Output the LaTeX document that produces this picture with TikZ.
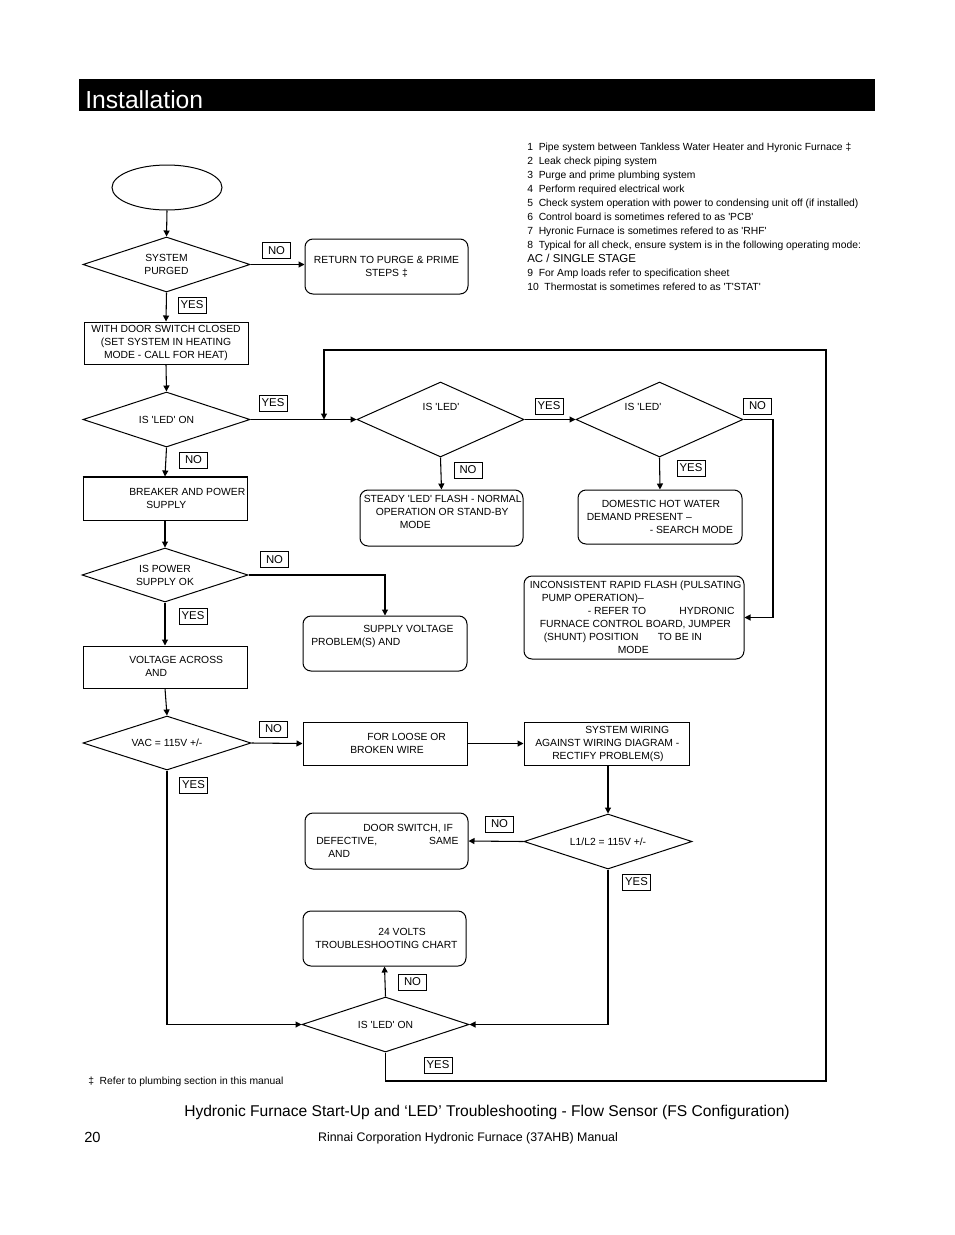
\documentclass[tikz,border=0pt]{standalone}
\usepackage{fontspec}
\newfontfamily\ls{Liberation Sans}
\usetikzlibrary{shapes.geometric,arrows.meta}
\begin{document}
\begin{tikzpicture}[x=0.75pt,y=-0.75pt,
 every node/.style={inner sep=0pt, font=\ls\fontsize{7.75}{9.75}\selectfont},
 sz/.style 2 args={minimum width=#1*0.75pt, minimum height=#2*0.75pt},
 sbox/.style={draw, rectangle, line width=0.75pt, align=center},
 rbox/.style={draw, rectangle, rounded corners=6pt, line width=0.75pt, align=center},
 dia/.style={draw, diamond, aspect=3, line width=0.75pt, align=center},
 lbl/.style={draw, line width=0.6pt, font=\ls\fontsize{8.5}{10}\selectfont, minimum width=21pt, minimum height=12pt},
 txt/.style={align=left, anchor=west},
 conn/.style={line width=0.8pt},
 arr/.style={conn, -{Triangle[length=4.5pt,width=4.5pt]}},
]
\useasboundingbox (0,0) rectangle (954,1235);
\fill[white] (0,0) rectangle (954,1235);

% header
\node[fill=black, sz={796}{32}, anchor=north west] (bar) at (79,79) {};
\node[anchor=base west, text=white, font=\ls\fontsize{18.5}{20}\selectfont] (title) at (85,108) {Installation};

% start
\node[draw, ellipse, sz={110}{45}, line width=0.75pt] (start) at (167,187.5) {};

% diamonds
\node[dia, sz={167}{55}] (d1) at (166.5,264.5) {SYSTEM\\PURGED};
\node[dia, sz={167}{55}] (d2) at (166.5,419.5) {IS 'LED' ON};
\node[dia, sz={167}{75}] (d3) at (440.5,419.5) {};
\node[dia, sz={167}{75}] (d4) at (659.5,419.5) {};
\node[dia, sz={166}{54}] (d5) at (165,575) {IS POWER\\SUPPLY OK};
\node[dia, sz={168}{54}] (d6) at (167,743) {VAC = 115V +/-};
\node[dia, sz={168}{55}] (d7) at (608,841.5) {L1/L2 = 115V +/-};
\node[dia, sz={167}{55}] (d8) at (385.5,1024.5) {IS 'LED' ON};
\node (t3) at (441,407) {IS 'LED'};
\node (t4) at (643,407) {IS 'LED'};

% square boxes
\node[sbox, sz={164}{42}] (door) at (166,343) {WITH DOOR SWITCH CLOSED\\(SET SYSTEM IN HEATING\\MODE - CALL FOR HEAT)};
\node[sbox, sz={164}{43}] (brk) at (165,498.5) {};
\draw[line width=1.5pt] (brk.north west) -- (brk.north east);
\node[sbox, sz={164}{42}] (volt) at (165,667) {};
\node[sbox, sz={164}{43}] (loose) at (385,743.5) {};
\node[sbox, sz={165}{43}] (wir) at (606.5,743.5) {};

% rounded boxes
\node[rbox, sz={163}{55}] (ret) at (386.5,266.5) {RETURN TO PURGE \& PRIME\\STEPS ‡};
\node[rbox, sz={163}{56}] (steady) at (441.5,518) {};
\node[rbox, sz={164}{54}] (dhw) at (660,517) {};
\node[rbox, sz={220}{83}] (inc) at (634,617.5) {};
\node[rbox, sz={164}{55}] (sup) at (385,643.5) {};
\node[rbox, sz={163}{56}] (drs) at (386.5,841) {};
\node[rbox, sz={163}{55}] (v24) at (384.5,938.5) {};

% box texts
\node[txt] (tbrk) at (129,498) {BREAKER AND POWER\\\hspace*{12.75pt}SUPPLY};
\node[txt] (tsteady) at (363.5,511.5) {STEADY 'LED' FLASH - NORMAL\\\hspace*{9pt}OPERATION OR STAND-BY\\\hspace*{27pt}MODE};
\node[txt] (tdhw) at (586.5,517.2) {\hspace*{11.25pt}DOMESTIC HOT WATER\\DEMAND PRESENT –\\\hspace*{47.25pt}- SEARCH MODE};
\node[txt] (tinc) at (529.5,617) {INCONSISTENT RAPID FLASH (PULSATING\\\hspace*{9pt}PUMP OPERATION)–\\\hspace*{43.5pt}- REFER TO\hspace*{25pt}HYDRONIC\\\hspace*{7.5pt}FURNACE CONTROL BOARD, JUMPER\\\hspace*{10.5pt}(SHUNT) POSITION\hspace*{14.5pt}TO BE IN\\\hspace*{66pt}MODE};
\node[txt] (tsup) at (311,636) {\hspace*{39pt}SUPPLY VOLTAGE\\PROBLEM(S) AND};
\node[txt] (tvolt) at (129,666) {VOLTAGE ACROSS\\\hspace*{12pt}AND};
\node[txt] (tloose) at (350,743) {\hspace*{12.75pt}FOR LOOSE OR\\BROKEN WIRE};
\node[txt] (twir) at (535,743.5) {\hspace*{37.5pt}SYSTEM WIRING\\AGAINST WIRING DIAGRAM -\\\hspace*{12.75pt}RECTIFY PROBLEM(S)};
\node[txt] (tdrs) at (316,840.5) {\hspace*{35.25pt}DOOR SWITCH, IF\\DEFECTIVE,\hspace*{39pt}SAME\\\hspace*{9pt}AND};
\node[txt] (t24) at (315,938) {\hspace*{47.25pt}24 VOLTS\\TROUBLESHOOTING CHART};

% connectors
\draw[arr] (start.south) -- (d1.north);
\draw[arr] (d1.east) -- (ret.west |- d1.east);
\draw[arr] (d1.south) -- (door.north);
\draw[arr] (door.south) -- (d2.north);
\draw[arr] (d2.east) -- (d3.west);
\draw[arr] (d3.east) -- (d4.west);
\coordinate (c1) at (773,419.5);
\draw[arr] (d4.east) -- (c1) |- (inc.east);
\draw[arr] (d3.south) -- (steady.north);
\draw[arr] (d4.south) -- (dhw.north);
\draw[arr] (d2.south) -- (brk.north);
\draw[arr] (brk.south) -- (d5.north);
\draw[arr] (d5.east) -| (sup.north);
\draw[arr] (d5.south) -- (volt.north);
\draw[arr] (volt.south) -- (d6.north);
\draw[arr] (d6.east) -- (loose.west);
\draw[arr] (loose.east) -- (wir.west);
\draw[arr] (wir.south -| d7.north) -- (d7.north);
\draw[arr] (d7.west) -- (drs.east);
\draw[arr] (d7.south) |- (d8.east);
\draw[arr] (d6.south) |- (d8.west);
\draw[arr] (d8.north) -- (v24.south);
\coordinate (lpB) at (826,1081);
\coordinate (lpD) at (324,350);
\coordinate (lpE) at (324,419.5);
\draw[arr] (d8.south) |- (lpB) |- (lpD) -- (lpE);

% yes/no labels
\node[lbl] (no1) at (276.5,250.5) {NO};
\node[lbl] (yes1) at (192,305) {YES};
\node[lbl] (yes2) at (273,403) {YES};
\node[lbl] (no2) at (193.5,460) {NO};
\node[lbl] (yes3) at (549,406) {YES};
\node[lbl] (no3) at (757.5,406) {NO};
\node[lbl] (no4) at (468,470) {NO};
\node[lbl] (yes4) at (691,468) {YES};
\node[lbl] (no5) at (274.5,559.5) {NO};
\node[lbl] (yes5) at (193,616) {YES};
\node[lbl] (no6) at (273.5,729) {NO};
\node[lbl] (yes6) at (193.5,785) {YES};
\node[lbl] (no7) at (499.5,824) {NO};
\node[lbl] (yes7) at (636.5,882) {YES};
\node[lbl] (no8) at (412.5,982) {NO};
\node[lbl] (yes8) at (438,1065) {YES};

% notes
\node[txt, font=\ls\fontsize{7.75}{10.5}\selectfont] (notes) at (527,217) {1~ Pipe system between Tankless Water Heater and Hyronic Furnace ‡\\2~ Leak check piping system\\3~ Purge and prime plumbing system\\4~ Perform required electrical work\\5~ Check system operation with power to condensing unit off (if installed)\\6~ Control board is sometimes refered to as 'PCB'\\7~ Hyronic Furnace is sometimes refered to as 'RHF'\\8~ Typical for all check, ensure system is in the following operating mode:\\{\fontsize{8.6}{10.5}\selectfont AC / SINGLE STAGE}\\9~ For Amp loads refer to specification sheet\\10~ Thermostat is sometimes refered to as 'T'STAT'};

\node[anchor=west, font=\ls\fontsize{7.75}{9}\selectfont] (foot) at (88,1082) {‡~ Refer to plumbing section in this manual};
\node[font=\ls\fontsize{11.7}{13}\selectfont] (cap) at (487,1112.5) {Hydronic Furnace Start-Up and ‘LED’ Troubleshooting - Flow Sensor (FS Configuration)};
\node[anchor=west, font=\ls\fontsize{11}{13}\selectfont] (pg) at (84,1137) {20};
\node[font=\ls\fontsize{9.3}{11}\selectfont] (man) at (468,1138.5) {Rinnai Corporation Hydronic Furnace (37AHB) Manual};
\end{tikzpicture}
\end{document}
